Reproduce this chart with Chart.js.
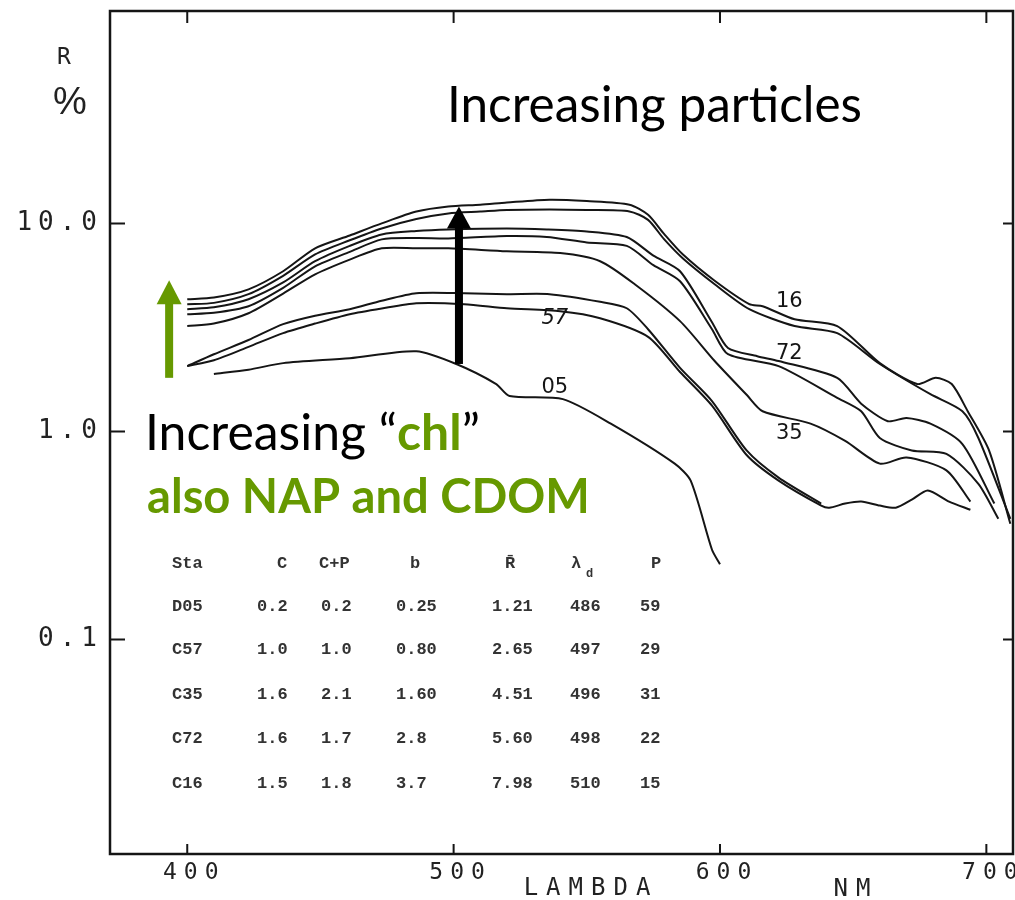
<!DOCTYPE html>
<html>
<head>
<meta charset="utf-8">
<script src="https://cdn.jsdelivr.net/npm/chart.js@4.4.1/dist/chart.umd.min.js"></script>
<style>
  html, body { margin: 0; padding: 0; background: #fff; }
  #wrap { width: 1015px; height: 900px; }
</style>
</head>
<body>
<div id="wrap"><canvas id="c" width="1015" height="900"></canvas></div>
<script>
// Axis ticks
const xTickValues = [400, 500, 600, 700];
const yTickValues = [0.1, 1, 10];

// Reflectance spectra R (%) against wavelength (nm), two casts for most stations
const wl16a = [400, 410, 423, 436, 448, 461, 473, 486, 498, 510, 520, 536, 550, 566, 573, 579, 586, 598, 611, 616, 628, 644, 660, 674, 681, 687, 693, 701, 709];
const r16a  = [4.32, 4.40, 4.82, 5.89, 7.59, 8.75, 10.0, 11.4, 12.06, 12.3, 12.6, 13.0, 12.8, 12.3, 11.0, 8.9, 7.1, 5.3, 4.09, 4.00, 3.46, 3.21, 2.13, 1.69, 1.81, 1.69, 1.25, 0.81, 0.36];

const wl16b = [400, 410, 423, 436, 448, 461, 473, 486, 498, 510, 520, 536, 550, 566, 573, 579, 586, 598, 611, 628, 644, 660, 679, 691, 697, 709];
const r16b  = [4.09, 4.15, 4.57, 5.6, 7.10, 8.3, 9.46, 10.5, 11.17, 11.4, 11.6, 11.67, 11.6, 11.42, 10.4, 8.4, 6.8, 5.1, 3.87, 3.21, 2.97, 2.11, 1.51, 1.25, 0.93, 0.38];

const wl72a = [400, 410, 423, 436, 448, 461, 473, 486, 498, 520, 535, 550, 565, 575, 585, 597, 603, 614, 622, 644, 653, 663, 670, 679, 691, 703];
const r72a  = [3.87, 3.95, 4.32, 5.2, 6.58, 7.8, 8.85, 9.2, 9.36, 9.46, 9.36, 9.15, 8.6, 7.0, 5.89, 3.35, 2.52, 2.30, 2.18, 1.81, 1.36, 1.12, 1.16, 1.09, 0.87, 0.45];

const wl72b = [400, 410, 423, 436, 448, 461, 473, 486, 498, 520, 535, 550, 565, 575, 585, 597, 603, 622, 644, 653, 660, 672, 685, 697, 704.5];
const r72b  = [3.66, 3.72, 4.00, 4.9, 6.22, 7.3, 8.38, 8.5, 8.47, 8.7, 8.6, 8.1, 7.8, 6.3, 5.27, 3.1, 2.35, 2.06, 1.45, 1.25, 0.93, 0.81, 0.78, 0.56, 0.38];

const wl35 = [400, 410, 423, 436, 448, 461, 473, 486, 498, 520, 540, 555, 568, 585, 598, 610, 616, 634, 647, 660, 670, 685, 694];
const r35  = [3.21, 3.3, 3.70, 4.6, 5.69, 6.7, 7.59, 7.6, 7.59, 7.34, 7.2, 6.58, 5.1, 3.39, 2.18, 1.50, 1.25, 1.09, 0.90, 0.70, 0.75, 0.65, 0.46];

const wl57a = [400, 410, 423, 436, 448, 461, 473, 486, 504, 520, 536, 555, 565, 573, 585, 597, 610, 622, 638];
const r57a  = [2.06, 2.35, 2.75, 3.28, 3.6, 3.87, 4.25, 4.62, 4.62, 4.57, 4.57, 4.2, 3.91, 3.1, 2.02, 1.40, 0.81, 0.60, 0.45];

const wl57b = [400, 410, 423, 436, 448, 461, 473, 486, 504, 520, 540, 555, 573, 585, 597, 610, 622, 638, 641, 647, 653, 660, 666, 672, 678, 686, 694];
const r57b  = [2.06, 2.2, 2.55, 2.97, 3.3, 3.66, 3.9, 4.13, 4.09, 3.91, 3.78, 3.50, 2.85, 1.93, 1.33, 0.77, 0.58, 0.44, 0.43, 0.45, 0.46, 0.44, 0.43, 0.47, 0.52, 0.46, 0.42];

const wl05 = [410, 423, 436, 461, 486, 501, 516, 521, 541, 559, 583, 589, 597, 600];
const r05  = [1.89, 1.98, 2.13, 2.25, 2.43, 2.11, 1.69, 1.48, 1.43, 1.09, 0.70, 0.58, 0.27, 0.23];

// Station tags written next to the curves (wavelength, R %)
const curveTags  = ['16', '72', '35', '57', '05'];
const curveTagWl = [626, 626, 626, 538, 538];
const curveTagR  = [4.23, 2.38, 0.98, 3.50, 1.63];

// Station table
const tableHead = ['Sta', 'C', 'C+P', 'b', 'R\u0304', '\u03bb', 'P'];
const staNames  = ['D05', 'C57', 'C35', 'C72', 'C16'];
const staC      = ['0.2', '1.0', '1.6', '1.6', '1.5'];
const staCP     = ['0.2', '1.0', '2.1', '1.7', '1.8'];
const staB      = ['0.25', '0.80', '1.60', '2.8', '3.7'];
const staRbar   = ['1.21', '2.65', '4.51', '5.60', '7.98'];
const staLd     = ['486', '497', '496', '498', '510'];
const staP      = ['59', '29', '31', '22', '15'];

const GREEN = '#669900';
const INK = '#151515';

function pts(wl, r) { return wl.map((x, i) => ({ x: x, y: r[i] })); }
function curve(wl, r) {
  return { data: pts(wl, r), showLine: true, borderColor: INK, borderWidth: 2,
           pointRadius: 0, tension: 0.25, fill: false };
}

function vArrow(ctx, x, yBase, yTip, color, shaftW, headW, headL) {
  ctx.fillStyle = color;
  ctx.fillRect(x - shaftW / 2, yTip + headL - 1, shaftW, yBase - (yTip + headL) + 1);
  ctx.beginPath();
  ctx.moveTo(x, yTip);
  ctx.lineTo(x - headW / 2, yTip + headL);
  ctx.lineTo(x + headW / 2, yTip + headL);
  ctx.closePath();
  ctx.fill();
}

function fitSize(ctx, parts, target, base) {
  let w = 0;
  parts.forEach(p => { ctx.font = (p.bold ? 'bold ' : '') + base + 'px Lato'; w += ctx.measureText(p.t).width; });
  return base * target / w;
}
function drawParts(ctx, parts, x, y, size) {
  parts.forEach(p => {
    ctx.font = (p.bold ? 'bold ' : '') + size + 'px Lato';
    ctx.fillStyle = p.c;
    ctx.fillText(p.t, x, y);
    x += ctx.measureText(p.t).width;
  });
}

const overlay = {
  id: 'overlay',
  // y tick labels are drawn with the scale layer before the datasets
  beforeDraw(chart) { chart.ctx.letterSpacing = '6px'; },
  // x tick labels sit on a later layer (ticks.z = 1)
  afterDatasetsDraw(chart) { chart.ctx.letterSpacing = '7px'; },
  afterDraw(chart) {
    const ctx = chart.ctx, a = chart.chartArea, xs = chart.scales.x, ys = chart.scales.y;
    ctx.save();
    ctx.letterSpacing = '0px';

    // plot frame
    ctx.strokeStyle = INK;
    ctx.lineWidth = 2.5;
    ctx.strokeRect(a.left, a.top, a.right - a.left, a.bottom - a.top);

    // inward tick marks
    ctx.lineWidth = 2;
    ctx.beginPath();
    xTickValues.forEach(v => {
      const px = xs.getPixelForValue(v);
      ctx.moveTo(px, a.bottom); ctx.lineTo(px, a.bottom - 10);
      ctx.moveTo(px, a.top); ctx.lineTo(px, a.top + 12);
    });
    yTickValues.forEach(v => {
      const py = ys.getPixelForValue(v);
      ctx.moveTo(a.left, py); ctx.lineTo(a.left + 15, py);
      ctx.moveTo(a.right, py); ctx.lineTo(a.right - 10, py);
    });
    ctx.stroke();

    // axis titles
    ctx.fillStyle = '#222';
    ctx.textAlign = 'center';
    ctx.textBaseline = 'alphabetic';
    ctx.font = '23px "DejaVu Sans Mono"';
    ctx.fillText('R', 64, 64);
    ctx.font = '38px "Liberation Sans"';
    ctx.fillText('%', 70, 114);
    ctx.letterSpacing = '8px';
    ctx.font = '24px "DejaVu Sans Mono"';
    ctx.fillText('LAMBDA', 591, 895);
    ctx.fillText('NM', 856, 896);
    ctx.letterSpacing = '0px';

    // station tags on curves
    ctx.fillStyle = INK;
    ctx.textBaseline = 'middle';
    curveTags.forEach((t, i) => {
      ctx.font = (t === '57' ? 'italic ' : '') + '500 21px "DejaVu Sans"';
      ctx.fillText(t, xs.getPixelForValue(curveTagWl[i]), ys.getPixelForValue(curveTagR[i]));
    });

    // station table
    ctx.textAlign = 'left';
    ctx.textBaseline = 'alphabetic';
    ctx.fillStyle = '#333';
    ctx.font = 'bold 17px "Liberation Mono"';
    const headX = [172, 277, 319, 410, 505, 571, 651];
    tableHead.forEach((t, i) => ctx.fillText(t, headX[i], 568));
    ctx.font = 'bold 12px "Liberation Mono"';
    ctx.fillText('d', 586, 577);
    ctx.font = 'bold 17px "Liberation Mono"';
    const cols = [staNames, staC, staCP, staB, staRbar, staLd, staP];
    const colX = [172, 257, 321, 396, 492, 570, 640];
    const rowY = [611, 654, 699, 743, 788];
    cols.forEach((col, ci) => col.forEach((t, ri) => ctx.fillText(t, colX[ci], rowY[ri])));

    // arrows, anchored in data units
    vArrow(ctx, xs.getPixelForValue(393.2), ys.getPixelForValue(1.81), ys.getPixelForValue(5.33), GREEN, 8, 25, 24);
    vArrow(ctx, xs.getPixelForValue(502), ys.getPixelForValue(2.11), ys.getPixelForValue(12.06), '#000', 8, 24, 22);

    // annotation text
    ctx.textAlign = 'left';
    ctx.textBaseline = 'alphabetic';
    const p1 = [{ t: 'Increasing particles', c: '#000' }];
    drawParts(ctx, p1, 447, 122, fitSize(ctx, p1, 415, 50));
    const p2 = [{ t: 'Increasing \u201c', c: '#000' }, { t: 'chl', c: GREEN, bold: true }, { t: '\u201d', c: '#000' }];
    drawParts(ctx, p2, 145, 450, fitSize(ctx, p2, 335, 50));
    const p3 = [{ t: 'also NAP and CDOM', c: GREEN, bold: true }];
    drawParts(ctx, p3, 147, 513, fitSize(ctx, p3, 443, 50));

    ctx.restore();
  }
};

new Chart(document.getElementById('c'), {
  type: 'scatter',
  data: {
    datasets: [
      curve(wl16a, r16a), curve(wl16b, r16b),
      curve(wl72a, r72a), curve(wl72b, r72b),
      curve(wl35, r35),
      curve(wl57a, r57a), curve(wl57b, r57b),
      curve(wl05, r05)
    ]
  },
  options: {
    responsive: false,
    animation: false,
    devicePixelRatio: 1,
    layout: { padding: { top: 11, right: 2, left: 0, bottom: 0 } },
    plugins: { legend: { display: false }, tooltip: { enabled: false } },
    scales: {
      x: {
        type: 'linear', min: 371, max: 710, position: 'bottom',
        afterBuildTicks: s => { s.ticks = xTickValues.map(v => ({ value: v })); },
        afterFit: s => { s.height = 46; s.paddingLeft = 0; s.paddingRight = 0; },
        grid: { display: false, drawTicks: false },
        border: { display: false },
        ticks: { z: 1, font: { family: 'DejaVu Sans Mono', size: 23 }, color: '#222', padding: 5,
                 labelOffset: 7, maxRotation: 0, autoSkip: false, callback: v => String(v) }
      },
      y: {
        type: 'logarithmic', min: 0.0093, max: 105,
        afterBuildTicks: s => { s.ticks = yTickValues.map(v => ({ value: v })); },
        afterFit: s => { s.width = 110; s.paddingTop = 0; s.paddingBottom = 0; },
        grid: { display: false, drawTicks: false },
        border: { display: false },
        ticks: { font: { family: 'DejaVu Sans Mono', size: 26 }, color: '#222', padding: 7,
                 autoSkip: false, callback: v => Number(v).toFixed(1) }
      }
    }
  },
  plugins: [overlay]
});
</script>
</body>
</html>
